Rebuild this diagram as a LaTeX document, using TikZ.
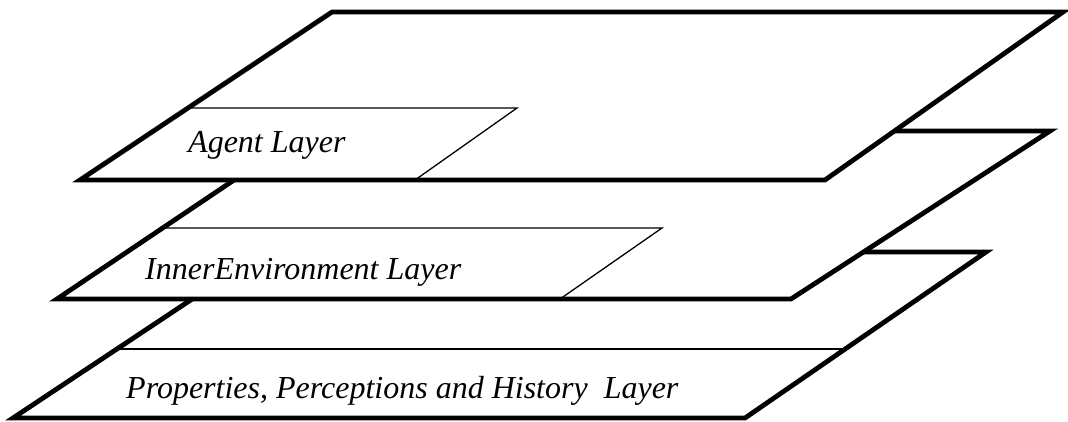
\documentclass[tikz,border=0pt]{standalone}
\usepackage{fontspec}
\setmainfont{Liberation Serif}
\usetikzlibrary{calc}
\begin{document}
\begin{tikzpicture}[x=1pt,y=-1pt,
  plane/.style={draw=black,fill=white,line width=4.8pt,line join=miter},
  inner/.style={draw=black,line width=1.3pt},
  label/.style={anchor=base west,inner sep=0pt,font=\fontsize{32}{38}\selectfont\itshape}]
\useasboundingbox (0,0) rectangle (1068,421);
% coordinates of the three planes
\coordinate (bBL) at (13,418);  \coordinate (bBR) at (745,418);
\coordinate (bTR) at (986,252); \coordinate (bTL) at (263,252);
\coordinate (mBL) at (57,299);  \coordinate (mBR) at (791,299);
\coordinate (mTR) at (1050,131);\coordinate (mTL) at (307,131);
\coordinate (tBL) at (80,180);  \coordinate (tBR) at (825,180);
\coordinate (tTR) at (1063,12); \coordinate (tTL) at (332,12);
% bottom plane
\draw[plane] (bBL) -- (bBR) -- (bTR) -- (bTL) -- cycle;
\coordinate (pL) at ($(bBL)!0.4157!(bTL)$);
\coordinate (pR) at ($(bBR)!0.4157!(bTR)$);
\draw[inner] (pL) -- (pR);
\node[label] (props) at (126,398) {Properties, Perceptions and History\ \ Layer};
% middle plane
\draw[plane] (mBL) -- (mBR) -- (mTR) -- (mTL) -- cycle;
\coordinate (iL) at ($(mBL)!0.4226!(mTL)$);
\coordinate (iR) at (662,228);
\coordinate (iB) at (560,299);
\draw[inner] (iL) -- (iR) -- (iB);
\node[label] (inner) at (145,279) {InnerEnvironment Layer};
% top plane
\draw[plane] (tBL) -- (tBR) -- (tTR) -- (tTL) -- cycle;
\coordinate (aL) at ($(tBL)!0.4286!(tTL)$);
\coordinate (aR) at (517,108);
\coordinate (aB) at (415,180);
\draw[inner] (aL) -- (aR) -- (aB);
\node[label] (agent) at (188,152) {Agent Layer};
\end{tikzpicture}
\end{document}
